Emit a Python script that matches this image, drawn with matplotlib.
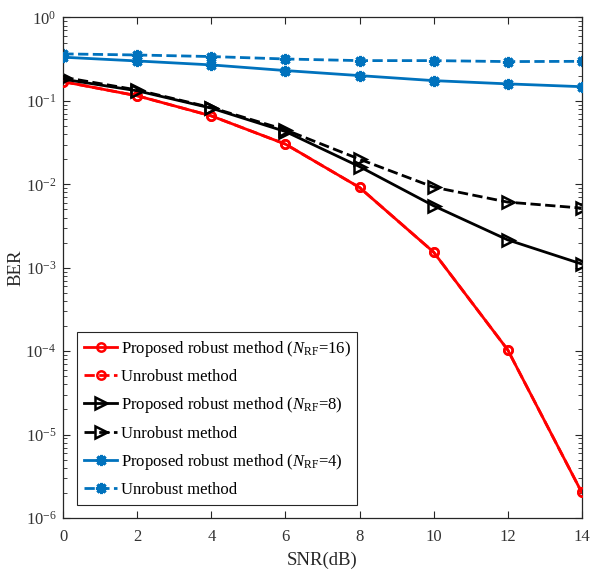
import matplotlib
matplotlib.use("Agg")
import matplotlib.pyplot as plt
from matplotlib.ticker import LogLocator, NullFormatter

# ------------------------------------------------------------
# Data
# ------------------------------------------------------------

snr = [0, 2, 4, 6, 8, 10, 12, 14]

ber_robust_16 = [0.170, 0.115, 0.066, 0.0303, 0.00916, 0.00154, 1.04e-4, 2.03e-6]
ber_unrobust_16 = [0.170, 0.115, 0.066, 0.0303, 0.00916, 0.00154, 1.04e-4, 2.03e-6]

ber_robust_8 = [0.182, 0.132, 0.0818, 0.0429, 0.0163, 0.00553, 0.00216, 0.00111]
ber_unrobust_8 = [0.192, 0.135, 0.083, 0.045, 0.0200, 0.00925, 0.00612, 0.00519]

ber_robust_4 = [0.334, 0.301, 0.270, 0.231, 0.201, 0.175, 0.160, 0.148]
ber_unrobust_4 = [0.366, 0.355, 0.340, 0.318, 0.304, 0.304, 0.296, 0.298]

labels = [
    r"Proposed robust method ($N_{\mathrm{RF}}$=16)",
    "Unrobust method",
    r"Proposed robust method ($N_{\mathrm{RF}}$=8)",
    "Unrobust method",
    r"Proposed robust method ($N_{\mathrm{RF}}$=4)",
    "Unrobust method",
]

x_ticks = [0, 2, 4, 6, 8, 10, 12, 14]

RED = "#ff0000"
BLACK = "#000000"
BLUE = "#0072bd"

# ------------------------------------------------------------
# Style
# ------------------------------------------------------------

plt.rcParams["font.family"] = ["Liberation Serif", "DejaVu Serif"]
plt.rcParams["mathtext.fontset"] = "custom"
plt.rcParams["mathtext.rm"] = "Liberation Serif"
plt.rcParams["mathtext.it"] = "Liberation Serif:italic"
plt.rcParams["mathtext.bf"] = "Liberation Serif:bold"
plt.rcParams["font.size"] = 12

fig = plt.figure(figsize=(5.92, 5.71), dpi=100)
ax = fig.add_axes([0.107, 0.0928, 0.8756, 0.8766])

lw = 2.0
star = (8, 2, 0)

ax.plot(snr, ber_robust_16, color=RED, linestyle="-", linewidth=lw,
        marker="o", markersize=6, markerfacecolor="none", markeredgewidth=1.8,
        label=labels[0], zorder=3)
ax.plot(snr, ber_unrobust_16, color=RED, linestyle="--", linewidth=lw,
        marker="o", markersize=6, markerfacecolor="none", markeredgewidth=1.8,
        label=labels[1], zorder=2)

ax.plot(snr, ber_robust_8, color=BLACK, linestyle="-", linewidth=lw,
        marker=">", markersize=8, markerfacecolor="none", markeredgewidth=1.8,
        label=labels[2], zorder=3)
ax.plot(snr, ber_unrobust_8, color=BLACK, linestyle="--", linewidth=lw,
        marker=">", markersize=8, markerfacecolor="none", markeredgewidth=1.8,
        label=labels[3], zorder=2)

ax.plot(snr, ber_robust_4, color=BLUE, linestyle="-", linewidth=lw,
        marker=star, markersize=8, markeredgewidth=2.2,
        label=labels[4], zorder=3)
ax.plot(snr, ber_unrobust_4, color=BLUE, linestyle="--", linewidth=lw,
        marker=star, markersize=8, markeredgewidth=2.2,
        label=labels[5], zorder=2)

# ------------------------------------------------------------
# Axes
# ------------------------------------------------------------

ax.set_yscale("log")
ax.set_xlim(0, 14)
ax.set_ylim(1e-6, 1e0)
ax.set_xticks(x_ticks)
ax.yaxis.set_major_locator(LogLocator(base=10, numticks=10))
ax.yaxis.set_minor_locator(LogLocator(base=10, subs=range(2, 10), numticks=20))
ax.yaxis.set_minor_formatter(NullFormatter())

ax.tick_params(which="both", direction="in", top=True, right=True,
               colors="#262626", labelcolor="#333333", labelsize=12)
ax.tick_params(which="major", length=5, width=0.8)
ax.tick_params(which="minor", length=3, width=0.6)
ax.tick_params(axis="x", which="major", pad=8)
ax.tick_params(axis="y", which="major", pad=5)

for spine in ax.spines.values():
    spine.set_color("#262626")
    spine.set_linewidth(0.9)

ax.set_xlabel("SNR(dB)", fontsize=13.5, color="#262626", labelpad=5)
ax.set_ylabel("BER", fontsize=13.5, color="#262626", labelpad=1)

leg = ax.legend(loc="lower left", bbox_to_anchor=(0.027, 0.026),
                borderaxespad=0, fancybox=False, framealpha=1,
                edgecolor="#262626", fontsize=12, handlelength=2.0,
                handletextpad=0.2, borderpad=0.4, labelspacing=0.62)
leg.get_frame().set_linewidth(0.8)

fig.savefig("out.png", dpi=100)
